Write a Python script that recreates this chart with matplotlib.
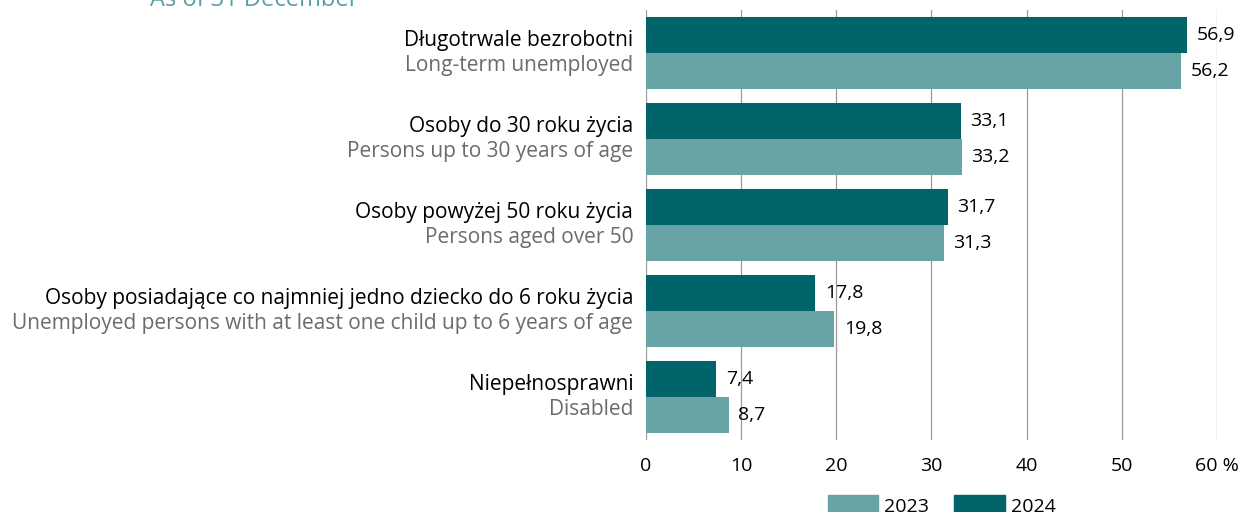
import matplotlib
matplotlib.use("Agg")
import matplotlib.pyplot as plt
from matplotlib.patches import Patch
import numpy as np

plt.rcParams['font.family'] = ['Open Sans', 'DejaVu Sans']

labels_pl = ["Długotrwale bezrobotni",
             "Osoby do 30 roku życia",
             "Osoby powyżej 50 roku życia",
             "Osoby posiadające co najmniej jedno dziecko do 6 roku życia",
             "Niepełnosprawni"]
labels_en = ["Long-term unemployed",
             "Persons up to 30 years of age",
             "Persons aged over 50",
             "Unemployed persons with at least one child up to 6 years of age",
             "Disabled"]
vals_2024 = [56.9, 33.1, 31.7, 17.8, 7.4]
vals_2023 = [56.2, 33.2, 31.3, 19.8, 8.7]
xticks = [0, 10, 20, 30, 40, 50, 60]
xticklabels = ["0", "10", "20", "30", "40", "50", "60 %"]

dark = "#00646a"
light = "#68a3a6"

fig = plt.figure(figsize=(12.51, 5.12), dpi=100)
ax = fig.add_axes([0.5164, 0.1406, 0.4564, 0.8398])

y = np.arange(len(vals_2024))
h = 0.415
ax.barh(y - h / 2, vals_2024, height=h, color=dark, zorder=3)
ax.barh(y + h / 2, vals_2023, height=h, color=light, zorder=3)

for i in range(len(y)):
    ax.text(vals_2024[i] + 1.0, y[i] - h / 2, f"{vals_2024[i]:.1f}".replace(".", ","),
            va="center", ha="left", fontsize=14, color="black")
    ax.text(vals_2023[i] + 1.0, y[i] + h / 2, f"{vals_2023[i]:.1f}".replace(".", ","),
            va="center", ha="left", fontsize=14, color="black")
    ax.text(-1.35, y[i] - 0.15, labels_pl[i], ha="right", va="center",
            fontsize=15, color="black")
    ax.text(-1.35, y[i] + 0.15, labels_en[i], ha="right", va="center",
            fontsize=15, color="#6b6b6b")

ax.set_xlim(0, 60)
ax.set_ylim(4.5, -0.5)
ax.set_xticks(xticks)
ax.set_xticklabels(xticklabels, fontsize=14)
ax.set_yticks([])
ax.tick_params(axis="x", length=0, pad=12)
ax.grid(axis="x", color="#9a9a9a", linewidth=0.9, zorder=0)
for s in ax.spines.values():
    s.set_visible(False)

fig.text(0.12, 1.0, "As of 31 December", color="#5a9ea1", fontsize=17, ha="left", va="center")

handles = [Patch(color=light, label="2023"), Patch(color=dark, label="2024")]
fig.legend(handles=handles, loc="center", bbox_to_anchor=(0.7526, 0.012), ncol=2,
           frameon=False, fontsize=14, handlelength=2.6, handleheight=1.4,
           columnspacing=1.3, handletextpad=0.3)

fig.savefig("out.png", dpi=100)
